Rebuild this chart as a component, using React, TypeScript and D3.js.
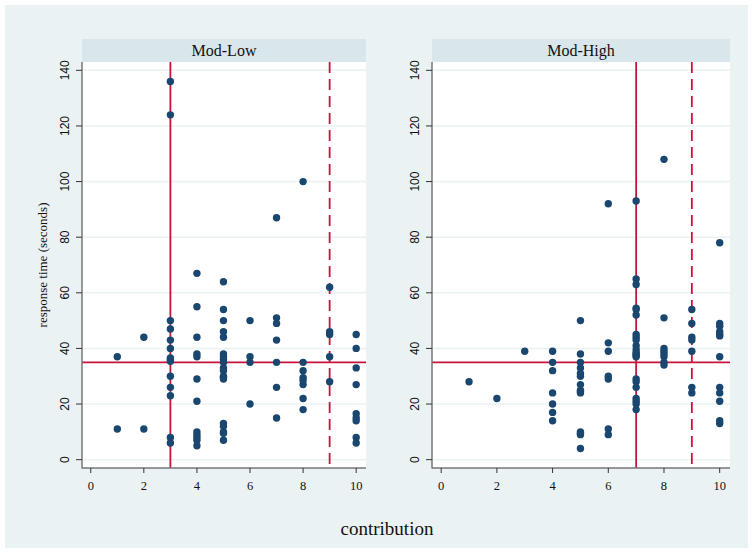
import React from "react";
import * as d3 from "d3";

const panelTitles = ["Mod-Low", "Mod-High"];

// Mod-Low: contribution (x) and response time (y)
const modLowContribution = [
  1, 1,
  2, 2,
  3, 3, 3, 3, 3, 3, 3, 3, 3, 3, 3, 3, 3, 3,
  4, 4, 4, 4, 4, 4, 4, 4, 4, 4, 4, 4,
  5, 5, 5, 5, 5, 5, 5, 5, 5, 5, 5, 5, 5, 5, 5, 5, 5, 5, 5,
  6, 6, 6, 6,
  7, 7, 7, 7, 7, 7, 7,
  8, 8, 8, 8, 8, 8, 8, 8,
  9, 9, 9, 9, 9,
  10, 10, 10, 10, 10, 10, 10, 10, 10,
];
const modLowResponse = [
  37, 11,
  44, 11,
  136, 124, 50, 47, 43, 40, 36, 36.6, 35.4, 30, 26, 23, 8, 6,
  67, 55, 44, 38, 37, 29, 21, 10, 9, 8, 7, 5,
  64, 54, 50, 46, 44, 38, 37, 36, 35, 33, 32, 30, 29, 29.6, 13, 12, 10, 9.5, 7,
  50, 37, 35, 20,
  87, 51, 49, 43, 35, 26, 15,
  100, 35, 32, 29.5, 28.5, 27, 22, 18,
  62, 46, 45, 37, 28,
  45, 40, 33, 27, 16.5, 15, 14, 8, 6,
];

// Mod-High
const modHighContribution = [
  1,
  2,
  3,
  4, 4, 4, 4, 4, 4, 4,
  5, 5, 5, 5, 5, 5, 5, 5, 5, 5, 5, 5, 5, 5,
  6, 6, 6, 6, 6, 6, 6,
  7, 7, 7, 7, 7, 7, 7, 7, 7, 7, 7, 7, 7, 7, 7, 7, 7, 7, 7, 7, 7, 7,
  8, 8, 8, 8, 8, 8, 8, 8,
  9, 9, 9, 9, 9, 9, 9,
  10, 10, 10, 10, 10, 10, 10, 10, 10, 10, 10, 10,
];
const modHighResponse = [
  28,
  22,
  39,
  39, 35, 32, 24, 20, 17, 14,
  50, 38, 35, 33, 31, 30, 27, 24.5, 24, 25, 10, 9, 9.5, 4,
  92, 42, 39, 30, 29, 11, 9,
  93, 65, 63, 54.5, 54, 52, 45, 44, 43, 41, 39.5, 38, 37.5, 37, 38.5, 29, 28, 26, 22, 21, 20, 18,
  108, 51, 40, 39, 38, 37, 35, 34,
  54, 49, 44, 43, 39, 26, 24,
  78, 49, 48, 46, 45, 44.5, 37, 26, 24, 21, 14, 13,
];

// reference lines: mean contribution (solid), threshold (dashed), mean response (horizontal)
const solidLineX = [3, 7];
const dashedLineX = [9, 9];
const horizontalLineY = [35, 35];

const xTicks = [0, 2, 4, 6, 8, 10];
const yTicks = [0, 20, 40, 60, 80, 100, 120, 140];

const xLabel = "contribution";
const yLabel = "response time (seconds)";

const W = 753;
const H = 553;
const SERIF = "'Liberation Serif', 'Times New Roman', serif";
const SANS = "'Liberation Sans', Arial, sans-serif";
const BG = "#eaf2f3";
const STRIP = "#d9e6eb";
const DOT = "#1a476f";
const RED = "#c8143c";

const panels = [
  { left: 82, right: 366, xs: modLowContribution, ys: modLowResponse },
  { left: 432, right: 730, xs: modHighContribution, ys: modHighResponse },
];
const plotTop = 62;
const plotBottom = 468;
const stripTop = 39;

export default function App() {
  const y = d3.scaleLinear().domain([-3, 143]).range([plotBottom, plotTop]);
  return (
    <svg
      width={W}
      height={H}
      style={{ position: "absolute", left: 0, top: 0, background: "#fff" }}
      fontFamily={SERIF}
    >
      <rect x={5} y={5} width={743} height={543} fill={BG} />
      {panels.map((p, i) => {
        const x = d3.scaleLinear().domain([-0.33, 10.37]).range([p.left, p.right]);
        const cx = (p.left + p.right) / 2;
        return (
          <g key={i}>
            <rect x={p.left} y={stripTop} width={p.right - p.left} height={plotTop - stripTop} fill={STRIP} />
            <text x={cx} y={56} textAnchor="middle" fontSize={16} fill="#111">
              {panelTitles[i]}
            </text>
            <rect x={p.left} y={plotTop} width={p.right - p.left} height={plotBottom - plotTop} fill="#fff" />
            {yTicks.map((t) => (
              <line key={t} x1={p.left} x2={p.right} y1={y(t)} y2={y(t)} stroke={BG} strokeWidth={1.5} />
            ))}
            <line x1={x(solidLineX[i])} x2={x(solidLineX[i])} y1={plotTop} y2={plotBottom} stroke={RED} strokeWidth={1.8} />
            <line
              x1={x(dashedLineX[i])}
              x2={x(dashedLineX[i])}
              y1={plotTop}
              y2={plotBottom}
              stroke={RED}
              strokeWidth={1.8}
              strokeDasharray="11 6"
            />
            <line x1={p.left} x2={p.right} y1={y(horizontalLineY[i])} y2={y(horizontalLineY[i])} stroke={RED} strokeWidth={1.8} />
            {p.xs.map((v, j) => (
              <circle key={j} cx={x(v)} cy={y(p.ys[j])} r={3.7} fill={DOT} />
            ))}
            {/* y axis */}
            <line x1={p.left} x2={p.left} y1={plotTop} y2={plotBottom + 0.5} stroke="#777" strokeWidth={1.5} />
            {yTicks.map((t) => (
              <g key={t} transform={`translate(${p.left},${y(t)})`}>
                <line x1={-6} x2={0} stroke="#333" strokeWidth={1} />
                <text
                  transform="translate(-13,0) rotate(-90)"
                  textAnchor="middle"
                  fontSize={12}
                  fontFamily={SANS}
                  fill="#111"
                >
                  {t}
                </text>
              </g>
            ))}
            {/* x axis */}
            <line x1={p.left} x2={p.right} y1={plotBottom} y2={plotBottom} stroke="#777" strokeWidth={1.5} />
            {xTicks.map((t) => (
              <g key={t} transform={`translate(${x(t)},${plotBottom})`}>
                <line y1={0} y2={5} stroke="#333" strokeWidth={1} />
                <text y={22} textAnchor="middle" fontSize={12.5} fill="#111">
                  {t}
                </text>
              </g>
            ))}
          </g>
        );
      })}
      <text
        transform={`translate(47,${(plotTop + plotBottom) / 2}) rotate(-90)`}
        textAnchor="middle"
        fontSize={13}
        fill="#111"
      >
        {yLabel}
      </text>
      <text x={387} y={535} textAnchor="middle" fontSize={19} fill="#111">
        {xLabel}
      </text>
    </svg>
  );
}
